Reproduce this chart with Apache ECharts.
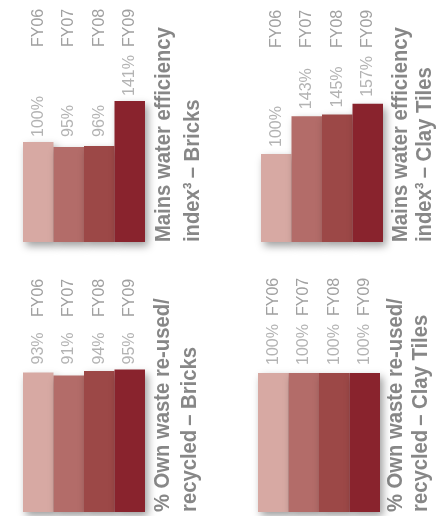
<!DOCTYPE html>
<html>
<head>
<meta charset="utf-8">
<script src="https://cdn.jsdelivr.net/npm/echarts@6/dist/echarts.min.js"></script>
<style>
  html, body { margin: 0; padding: 0; background: #ffffff; }
  #chart { width: 442px; height: 516px; }
</style>
</head>
<body>
<div id="chart"></div>
<script>
// Financial years shown in every panel
const categories = ['FY06', 'FY07', 'FY08', 'FY09'];

// Mains water efficiency index (%)
const waterBricks = [100, 95, 96, 141];
const waterClayTiles = [100, 143, 145, 157];

// Own waste re-used / recycled (%)
const wasteBricks = [93, 91, 94, 95];
const wasteClayTiles = [100, 100, 100, 100];

// One shade per year, light to dark
const yearColors = ['#d7a9a3', '#b36c69', '#9c4847', '#89232d'];

const titleFont = 'bold 22px "Liberation Sans", Arial, sans-serif';
const labelFont = '"Liberation Sans", Arial, sans-serif';
const titleColor = '#878787';
const labelColor = '#a0a0a0';

// Panel layout: each panel is a small vertical bar chart with rotated text
const panels = [
  { values: waterBricks, grid: { left: 23, top: 52, width: 122, height: 190 }, yMax: 190,
    labelFloor: 100, labelGap: 5, catMargin: 5,
    lines: [{ text: 'Mains water efficiency', x: 164, y: 242 }, { text: 'index³\u2009– Bricks', x: 193, y: 242 }] },
  { values: waterClayTiles, grid: { left: 261, top: 66, width: 122, height: 176 }, yMax: 200,
    labelFloor: 0, labelGap: 7, catMargin: 18,
    lines: [{ text: 'Mains water efficiency', x: 401, y: 242 }, { text: 'index³\u2009– Clay Tiles', x: 425, y: 242 }] },
  { values: wasteBricks, grid: { left: 23, top: 362, width: 122, height: 150 }, yMax: 100,
    labelFloor: 95, labelGap: 5, catMargin: 45,
    lines: [{ text: '% Own waste re-used/', x: 163, y: 512 }, { text: 'recycled\u2009– Bricks', x: 190, y: 512 }] },
  { values: wasteClayTiles, grid: { left: 258, top: 373, width: 122, height: 139 }, yMax: 100,
    labelFloor: 0, labelGap: 8, catMargin: 57,
    lines: [{ text: '% Own waste re-used/', x: 396, y: 512 }, { text: 'recycled\u2009– Clay Tiles', x: 421, y: 512 }] }
];

const grid = [], xAxis = [], yAxis = [], series = [], graphic = [];

panels.forEach((p, i) => {
  grid.push(Object.assign({ containLabel: false }, p.grid));
  xAxis.push({
    type: 'category', gridIndex: i, data: categories, position: 'top',
    axisLine: { show: false }, axisTick: { show: false }, splitLine: { show: false },
    axisLabel: {
      rotate: 90, margin: p.catMargin, color: labelColor,
      fontFamily: labelFont, fontSize: 16
    }
  });
  yAxis.push({ type: 'value', gridIndex: i, min: 0, max: p.yMax, show: false, splitLine: { show: false } });

  series.push({
    type: 'bar', xAxisIndex: i, yAxisIndex: i, barCategoryGap: '0%',
    data: p.values.map((v, k) => ({
      value: v,
      itemStyle: { color: yearColors[k] }
    })),
    itemStyle: {
      shadowBlur: 8, shadowOffsetX: 3, shadowOffsetY: 4,
      shadowColor: 'rgba(0, 0, 0, 0.38)'
    },
    silent: true
  });

  // Value labels above the bars (kept level where bars are short)
  series.push({
    type: 'scatter', xAxisIndex: i, yAxisIndex: i, symbolSize: 0, silent: true,
    data: p.values.map((v, k) => ({
      value: [categories[k], Math.max(v, p.labelFloor)],
      label: { formatter: v + '%' }
    })),
    label: {
      show: true, position: 'top', distance: p.labelGap, rotate: 90,
      align: 'left', verticalAlign: 'middle',
      color: labelColor, fontFamily: labelFont, fontSize: 16
    }
  });

  p.lines.forEach(line => {
    graphic.push({
      type: 'text', x: line.x, y: line.y, rotation: Math.PI / 2, scaleX: 0.92,
      style: {
        text: line.text, font: titleFont, fill: titleColor,
        align: 'left', verticalAlign: 'middle'
      }
    });
  });
});

const chart = echarts.init(document.getElementById('chart'), null, { renderer: 'canvas' });
chart.setOption({
  backgroundColor: '#ffffff',
  animation: false,
  grid, xAxis, yAxis, series, graphic
});
</script>
</body>
</html>
